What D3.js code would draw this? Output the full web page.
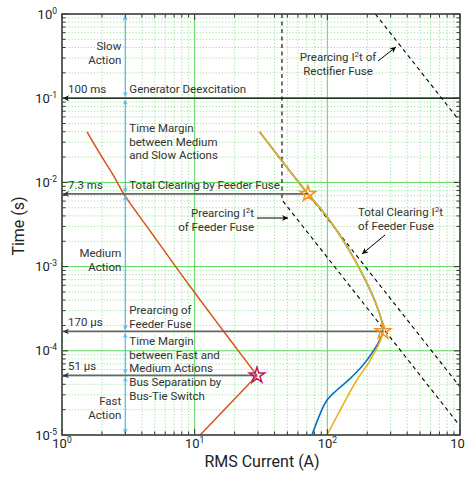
<!DOCTYPE html>
<html>
<head>
<meta charset="utf-8">
<script src="https://cdn.jsdelivr.net/npm/d3@7"></script>
<style>
  body { margin: 0; background: #fff; }
  text { font-family: Roboto, "DejaVu Sans", sans-serif; }
</style>
</head>
<body>
<svg id="chart" width="465" height="477"></svg>
<script>
// values: current in A, time in s
const xExponents = ["0", "1", "2", "3"];
const yExponents = ["-5", "-4", "-3", "-2", "-1", "0"];

// fault current of the bus separation (red): rising part, then the drop after the switch
const busCurve = [
  [1.544, 0.0397], [1.935, 0.02175], [2.427, 0.01225], [2.989, 0.0069], [4.616, 0.00265],
  [7.125, 0.00102], [11.0, 4.01e-4], [18.53, 1.344e-4], [29.5, 5.1e-5]
];
const busDrop = [[29.5, 5.1e-5], [11.0, 1.0e-5]];
// feeder fuse current, two cases (gold, blue)
const feederCurveA = [
  [30.8, 0.040], [45.5, 0.0180], [71.5, 7.3e-3], [99.5, 3.9e-3], [141, 1.72e-3],
  [188, 7.6e-4], [237, 3.34e-4], [263, 1.7e-4], [211, 7.8e-5], [167, 4.5e-5],
  [133, 2.38e-5], [99.5, 1.0e-5]
];
const feederCurveB = [
  [30.8, 0.040], [45.5, 0.0180], [71.5, 7.3e-3], [99.5, 3.9e-3], [141, 1.72e-3],
  [188, 7.6e-4], [237, 3.34e-4], [262, 1.7e-4], [199.5, 7.8e-5], [149, 4.7e-5],
  [118, 3.42e-5], [99.5, 2.6e-5], [88.5, 1.81e-5], [76.6, 1.0e-5]
];
// I2t limits (dashed)
const rectifierPrearcing = [[230, 1], [1000, 0.0529]];
const feederPrearcing = [[45.5, 1], [45.5, 6.2e-3], [1000, 1.28e-5]];
const feederClearing = [[45.5, 0.018], [1000, 3.73e-5]];

// protection time levels
const levelTimes = [0.1, 7.3e-3, 1.7e-4, 5.1e-5];
const levelLabels = ["100 ms", "7.3 ms", "170 μs", "51 μs"];
const levelFrom = [1000, 71.5, 263, 29.5];
const stars = [[71.5, 7.3e-3], [263, 1.7e-4], [29.5, 5.1e-5]];
const bandBounds = [1, 0.1, 7.3e-3, 1.7e-4, 5.1e-5, 1e-5];
const bandCurrent = 3;

const chart = d3.select("#chart");
const x = d3.scaleLog().domain([1, 1000]).range([62, 460]);
const y = d3.scaleLog().domain([1e-5, 1]).range([435, 14]);
const x0 = x.range()[0], x1 = x.range()[1], y0 = y.range()[0], y1 = y.range()[1];

const defs = chart.append("defs");
defs.append("clipPath").attr("id", "plot")
  .append("rect").attr("x", x0).attr("y", y1).attr("width", x1 - x0).attr("height", y0 - y1);

function arrowMarker(id, color, w, h) {
  defs.append("marker").attr("id", id)
    .attr("viewBox", "0 0 10 10").attr("refX", 10).attr("refY", 5)
    .attr("markerUnits", "userSpaceOnUse")
    .attr("markerWidth", w).attr("markerHeight", h)
    .attr("orient", "auto-start-reverse")
    .append("path").attr("d", "M0,0L10,5L0,10L3,5Z").attr("fill", color);
}
arrowMarker("arBlack", "#000", 7, 6);
arrowMarker("arGray", "#333", 7, 6);
arrowMarker("arBlue", "#4DBEEE", 6, 5);

// grid
const isMajor = v => Math.abs(Math.log10(v) - Math.round(Math.log10(v))) < 1e-6;
const grid = chart.append("g");
const xt = x.ticks(), yt = y.ticks();
grid.selectAll(".vx").data(xt).enter().append("line")
  .attr("x1", d => x(d)).attr("x2", d => x(d)).attr("y1", y1).attr("y2", y0)
  .attr("stroke", d => isMajor(d) ? "#5ad85a" : "#8fe08f")
  .attr("stroke-width", d => isMajor(d) ? 1 : 0.9)
  .attr("stroke-dasharray", d => isMajor(d) ? null : "1.2,2");
grid.selectAll(".hy").data(yt).enter().append("line")
  .attr("y1", d => y(d)).attr("y2", d => y(d)).attr("x1", x0).attr("x2", x1)
  .attr("stroke", d => isMajor(d) ? "#5ad85a" : "#8fe08f")
  .attr("stroke-width", d => isMajor(d) ? 1 : 0.9)
  .attr("stroke-dasharray", d => isMajor(d) ? null : "1.2,2");

const plot = chart.append("g").attr("clip-path", "url(#plot)");
const straight = d3.line().x(d => x(d[0])).y(d => y(d[1]));
const smooth = d3.line().x(d => x(d[0])).y(d => y(d[1])).curve(d3.curveCatmullRom.alpha(0.5));

// dashed I2t limits
[rectifierPrearcing, feederPrearcing, feederClearing].forEach(pts => {
  plot.append("path").attr("d", straight(pts)).attr("fill", "none")
    .attr("stroke", "#000").attr("stroke-width", 1.1).attr("stroke-dasharray", "4,3.5");
});

// curves
plot.append("path").attr("d", smooth(feederCurveB)).attr("fill", "none")
  .attr("stroke", "#0072BD").attr("stroke-width", 1.6);
plot.append("path").attr("d", smooth(feederCurveA)).attr("fill", "none")
  .attr("stroke", "#EDB120").attr("stroke-width", 1.6);
plot.append("path").attr("d", smooth(busCurve)).attr("fill", "none")
  .attr("stroke", "#D95319").attr("stroke-width", 1.5);
plot.append("path").attr("d", straight(busDrop)).attr("fill", "none")
  .attr("stroke", "#D95319").attr("stroke-width", 1.5);

// time level lines
levelTimes.forEach((t, i) => {
  chart.append("line")
    .attr("x1", x(levelFrom[i])).attr("x2", x0 + 1).attr("y1", y(t)).attr("y2", y(t))
    .attr("stroke", i === 0 ? "#000" : "#666").attr("stroke-width", i === 0 ? 1.3 : 1.8)
    .attr("marker-end", i === 0 ? "url(#arBlack)" : "url(#arGray)");
  chart.append("text").attr("x", x0 + 6).attr("y", y(t) - 5)
    .attr("font-size", 11.5).attr("fill", "#333").text(levelLabels[i]);
});

// band arrows
for (let i = 0; i < bandBounds.length - 1; i++) {
  chart.append("line")
    .attr("x1", x(bandCurrent)).attr("x2", x(bandCurrent))
    .attr("y1", y(bandBounds[i]) + 1.5).attr("y2", y(bandBounds[i + 1]) - 1.5)
    .attr("stroke", "#4DBEEE").attr("stroke-width", 1.2)
    .attr("marker-start", "url(#arBlue)").attr("marker-end", "url(#arBlue)");
}

// stars
chart.selectAll(".star").data(stars).enter().append("path")
  .attr("d", d3.symbol().type(d3.symbolStar).size(75))
  .attr("transform", d => `translate(${x(d[0])},${y(d[1])})`)
  .attr("fill", "none")
  .attr("stroke", (d, i) => i === 2 ? "#C2185B" : "#F7941D")
  .attr("stroke-width", 1.5);

// annotation text
function label(lines, px, py, anchor) {
  const t = chart.append("text").attr("font-size", 11.5).attr("fill", "#333")
    .attr("text-anchor", anchor);
  lines.forEach((s, i) => {
    const ts = t.append("tspan").attr("x", px).attr("y", py + i * 13.7);
    const parts = s.split("²");
    ts.text(parts[0]);
    if (parts.length > 1) {
      ts.append("tspan").attr("font-size", 8).attr("dy", -4).text("2");
      ts.append("tspan").attr("dy", 4).text(parts[1]);
    }
  });
}
const bx = x(bandCurrent);
label(["Slow", "Action"], bx - 4, 50, "end");
label(["Medium", "Action"], bx - 4, 257, "end");
label(["Fast", "Action"], bx - 4, 405, "end");
label(["Generator Deexcitation"], bx + 4, y(0.1) - 5, "start");
label(["Time Margin", "between Medium", "and Slow Actions"], bx + 4, 132, "start");
label(["Total Clearing by Feeder Fuse"], bx + 4, y(7.3e-3) - 5, "start");
label(["Prearcing of", "Feeder Fuse"], bx + 4, y(1.7e-4) - 17, "start");
label(["Time Margin", "between Fast and", "Medium Actions"], bx + 4, y(1.7e-4) + 13.5, "start");
label(["Bus Separation by", "Bus-Tie Switch"], bx + 4, y(5.1e-5) + 11, "start");
label(["Prearcing I²t of", "Rectifier Fuse"], 338, 61, "middle");
label(["Prearcing I²t", "of Feeder Fuse"], 254, 217, "end");
label(["Total Clearing I²t", "of Feeder Fuse"], 358, 216, "start");

// annotation arrows
[[378, 61, 396, 47], [257, 218, 288, 218], [385, 235, 362, 254]].forEach(a => {
  chart.append("line").attr("x1", a[0]).attr("y1", a[1]).attr("x2", a[2]).attr("y2", a[3])
    .attr("stroke", "#000").attr("stroke-width", 1).attr("marker-end", "url(#arBlack)");
});

// frame and inward ticks
const frame = chart.append("g").attr("stroke", "#333").attr("stroke-width", 1);
xt.forEach(d => {
  const l = isMajor(d) ? 6 : 3.5;
  frame.append("line").attr("x1", x(d)).attr("x2", x(d)).attr("y1", y0).attr("y2", y0 - l);
  frame.append("line").attr("x1", x(d)).attr("x2", x(d)).attr("y1", y1).attr("y2", y1 + l);
});
yt.forEach(d => {
  const l = isMajor(d) ? 6 : 3.5;
  frame.append("line").attr("y1", y(d)).attr("y2", y(d)).attr("x1", x0).attr("x2", x0 + l);
  frame.append("line").attr("y1", y(d)).attr("y2", y(d)).attr("x1", x1).attr("x2", x1 - l);
});
frame.append("rect").attr("x", x0).attr("y", y1).attr("width", x1 - x0).attr("height", y0 - y1)
  .attr("fill", "none").attr("stroke-width", 1.6).attr("stroke", "#444");

// tick labels
const xMajors = xt.filter(isMajor), yMajors = yt.filter(isMajor);
xMajors.forEach((d, i) => {
  const t = chart.append("text").attr("x", x(d)).attr("y", 448)
    .attr("text-anchor", "middle").attr("font-size", 13).attr("fill", "#222");
  t.append("tspan").text("10");
  t.append("tspan").attr("font-size", 8.5).attr("dy", -5).text(xExponents[i]);
});
yMajors.forEach((d, i) => {
  const t = chart.append("text").attr("x", 57).attr("y", y(d) + 4.5)
    .attr("text-anchor", "end").attr("font-size", 13).attr("fill", "#222");
  t.append("tspan").text("10");
  t.append("tspan").attr("font-size", 8.5).attr("dy", -5).text(yExponents[i]);
});

// axis titles
chart.append("text").attr("x", 262).attr("y", 467).attr("text-anchor", "middle")
  .attr("font-size", 16).attr("fill", "#222").text("RMS Current (A)");
chart.append("text").attr("transform", "translate(24,226) rotate(-90)")
  .attr("text-anchor", "middle").attr("font-size", 16).attr("fill", "#222").text("Time (s)");
</script>
</body>
</html>
